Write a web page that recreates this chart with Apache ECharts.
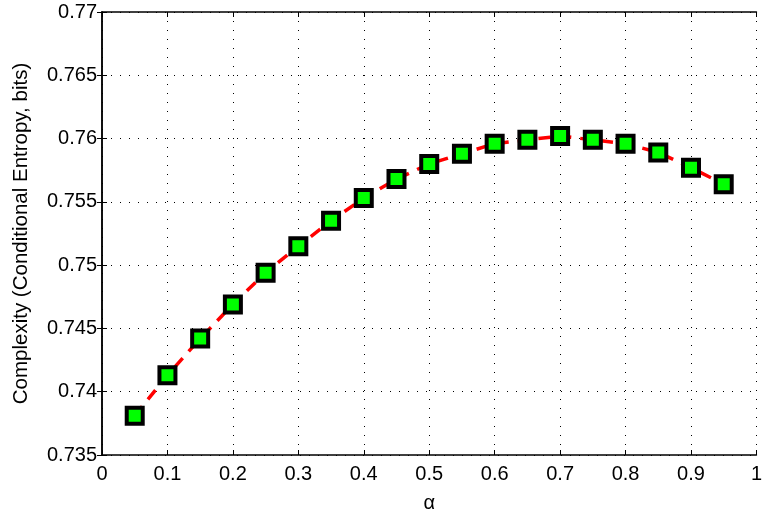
<!DOCTYPE html>
<html>
<head>
<meta charset="utf-8">
<script src="https://cdn.jsdelivr.net/npm/echarts@6/dist/echarts.min.js"></script>
<style>
html,body{margin:0;padding:0;background:#fff;overflow:hidden;}
#c{width:765px;height:518px;}
</style>
</head>
<body>
<div id="c"></div>
<script>
const alphaValues = [0.05,0.1,0.15,0.2,0.25,0.3,0.35,0.4,0.45,0.5,0.55,0.6,0.65,0.7,0.75,0.8,0.85,0.9,0.95];
const complexity = [0.7381,0.7413,0.7442,0.7469,0.7494,0.7515,0.7535,0.7553,0.7568,0.7580,0.7588,0.7596,0.7599,0.7602,0.7599,0.7596,0.7589,0.7577,0.7564];
const xTickLabels = ['0','0.1','0.2','0.3','0.4','0.5','0.6','0.7','0.8','0.9','1'];
const yTickLabels = ['0.735','0.74','0.745','0.75','0.755','0.76','0.765','0.77'];
const xName = 'α';
const yName = 'Complexity (Conditional Entropy, bits)';

const font = 'Liberation Sans, Arial, sans-serif';
const chart = echarts.init(document.getElementById('c'), null, {renderer:'canvas', width:765, height:518});
const points = alphaValues.map((a,i)=>[a, complexity[i]]);
const axisLineStyle = {show:true, lineStyle:{color:'#000', width:1.5}};
const gridLine = {show:true, lineStyle:{color:'#000', type:[1,8], width:1}};

chart.setOption({
  animation:false,
  backgroundColor:'#fff',
  grid:{left:102, right:3, top:12, bottom:56, containLabel:false},
  xAxis:[{
    type:'value', min:0, max:1, interval:0.1, position:'bottom',
    name:xName, nameLocation:'middle', nameGap:38,
    nameTextStyle:{fontFamily:font, fontSize:20, color:'#000'},
    axisLine:axisLineStyle,
    axisTick:{show:true, inside:true, length:5, lineStyle:{color:'#000'}},
    axisLabel:{fontFamily:font, fontSize:20, color:'#000', margin:9,
      formatter:(v)=>xTickLabels[Math.round(v*10)]},
    splitLine:gridLine
  },{
    type:'value', min:0, max:1, interval:0.1, position:'top',
    axisLine:axisLineStyle,
    axisTick:{show:true, inside:true, length:5, lineStyle:{color:'#000'}},
    axisLabel:{show:false}, splitLine:{show:false}
  }],
  yAxis:[{
    type:'value', min:0.735, max:0.77, interval:0.005, position:'left',
    name:yName, nameLocation:'middle', nameGap:70, nameRotate:90,
    nameTextStyle:{fontFamily:font, fontSize:20.5, color:'#000'},
    axisLine:axisLineStyle,
    axisTick:{show:true, inside:true, length:5, lineStyle:{color:'#000'}},
    axisLabel:{fontFamily:font, fontSize:20, color:'#000', margin:5,
      formatter:(v)=>yTickLabels[Math.round((v-0.735)/0.005)]},
    splitLine:gridLine
  },{
    type:'value', min:0.735, max:0.77, interval:0.005, position:'right',
    axisLine:axisLineStyle,
    axisTick:{show:true, inside:true, length:5, lineStyle:{color:'#000'}},
    axisLabel:{show:false}, splitLine:{show:false}
  }],
  series:[{
    type:'line',
    data:points,
    xAxisIndex:0, yAxisIndex:0,
    lineStyle:{color:'#ff0000', width:3.5, type:[12,9]},
    symbol:'rect',
    symbolSize:16,
    itemStyle:{color:'#00ff00', borderColor:'#000', borderWidth:4},
    z:3
  }]
});
</script>
</body>
</html>
